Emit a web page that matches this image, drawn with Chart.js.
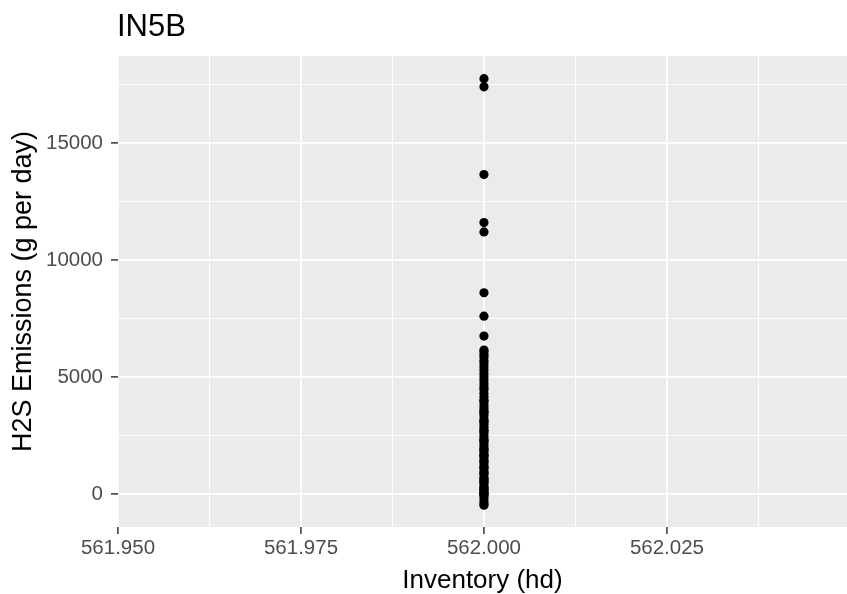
<!DOCTYPE html>
<html>
<head>
<meta charset="utf-8">
<script src="https://cdn.jsdelivr.net/npm/chart.js@4.4.0/dist/chart.umd.min.js"></script>
<style>
  html, body { margin: 0; padding: 0; background: #fff; }
  #wrap { width: 847px; height: 594px; }
</style>
</head>
<body>
<div id="wrap"><canvas id="mycanvas" width="847" height="594"></canvas></div>
<script>
// data: every point sits at inventory 562
var inventory = 562;
var emissions = [
  17750, 17400, 13650, 11600, 11200, 8600, 7600, 6750,
  6150, 6080, 5950, 5850, 5700, 5600, 5450, 5300, 5150, 5000, 4850, 4700, 4560,
  4450, 4300, 4150, 4000, 3980, 3850, 3720, 3600, 3470, 3350, 3210, 3090, 2960,
  2840, 2710, 2590, 2460, 2330, 2210, 2080, 1960, 1830, 1700, 1580,
  1450, 1330, 1200, 1080, 950, 830, 700, 580, 450, 330, 200, 80,
  -50, -170, -300, -420, -480, 0, 20, 150, 260, 510, 640, 900, 1120,
  1400, 1650, 1900, 2300, 2700, 3100, 3500
];
var xTicks = [561.95, 561.9625, 561.975, 561.9875, 562.0, 562.0125, 562.025, 562.0375];
var xTickLabels = ["561.950", "", "561.975", "", "562.000", "", "562.025", ""];
var yTicks = [0, 2500, 5000, 7500, 10000, 12500, 15000, 17500];
var yTickLabels = ["0", "", "5000", "", "10000", "", "15000", ""];

var points = [];
for (var i in emissions) {
  points.push({ x: inventory, y: emissions[i] });
}

var panelBg = {
  id: 'panelBg',
  beforeDraw: function(chart) {
    var a = chart.chartArea, c = chart.ctx;
    c.save();
    c.fillStyle = '#EBEBEB';
    c.fillRect(a.left, a.top, a.right - a.left, a.bottom - a.top);
    c.restore();
  },
  afterDraw: function(chart) {
    var c = chart.ctx;
    c.save();
    c.fillStyle = '#000';
    c.font = '31px "Liberation Sans", Arial, sans-serif';
    c.textBaseline = 'alphabetic';
    c.fillText('IN5B', 117, 36);
    c.restore();
  }
};

function isMajor(ctx) { return ctx.index % 2 === 0; }

Chart.defaults.font.family = '"Liberation Sans", Arial, sans-serif';
Chart.defaults.animation = false;

var ctx = document.getElementById('mycanvas');
var chart = new Chart(ctx, {
  type: 'scatter',
  data: {
    datasets: [{
      label: 'IN5B',
      data: points,
      backgroundColor: '#000',
      borderWidth: 0,
      pointRadius: 4.6,
      pointHoverRadius: 4.6
    }]
  },
  options: {
    responsive: false,
    maintainAspectRatio: false,
    layout: { autoPadding: false, padding: { top: 56, left: 0, right: 0, bottom: 0 } },
    plugins: { legend: { display: false }, tooltip: { enabled: false }, title: { display: false } },
    scales: {
      x: {
        type: 'linear',
        min: 561.95,
        max: 562.0496,
        afterBuildTicks: function(scale) {
          scale.ticks = xTicks.map(function(v) { return { value: v }; });
        },
        afterFit: function(scale) {
          scale.height = 67;
          scale.paddingLeft = 0;
          scale.paddingRight = 0;
        },
        border: { display: false },
        grid: {
          color: '#FFFFFF',
          lineWidth: function(c) { return isMajor(c) ? 1.8 : 0.9; },
          tickColor: function(c) { return isMajor(c) ? '#333333' : 'rgba(0,0,0,0)'; },
          tickLength: 7,
          tickWidth: 1.5
        },
        ticks: {
          color: '#4D4D4D',
          font: { size: 20.5 },
          padding: 2,
          maxRotation: 0,
          autoSkip: false,
          callback: function(v, idx) { return xTickLabels[idx]; }
        },
        title: {
          display: true,
          text: 'Inventory (hd)',
          color: '#000',
          font: { size: 26, lineHeight: 1.0 },
          padding: { top: 0, bottom: 0 }
        }
      },
      y: {
        type: 'linear',
        min: -1410,
        max: 18718,
        afterBuildTicks: function(scale) {
          scale.ticks = yTicks.map(function(v) { return { value: v }; });
        },
        afterFit: function(scale) { scale.width = 118; },
        border: { display: false },
        grid: {
          color: '#FFFFFF',
          lineWidth: function(c) { return isMajor(c) ? 1.8 : 0.9; },
          tickColor: function(c) { return isMajor(c) ? '#333333' : 'rgba(0,0,0,0)'; },
          tickLength: 7,
          tickWidth: 1.5
        },
        ticks: {
          color: '#4D4D4D',
          font: { size: 20.5 },
          padding: 8,
          autoSkip: false,
          callback: function(v, idx) { return yTickLabels[idx]; }
        },
        title: {
          display: true,
          text: 'H2S Emissions (g per day)',
          color: '#000',
          font: { size: 27 },
          padding: { top: 7, bottom: 0 }
        }
      }
    }
  },
  plugins: [panelBg]
});
</script>
</body>
</html>
